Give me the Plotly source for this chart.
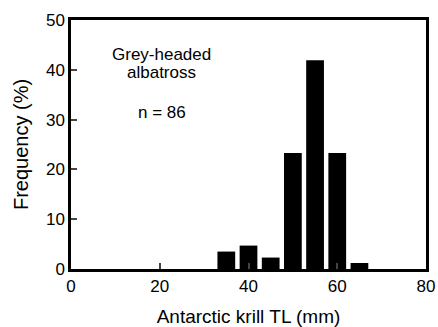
import plotly.graph_objects as go

bin_centers = [35, 40, 45, 50, 55, 60, 65]
frequency = [3.5, 4.7, 2.3, 23.3, 41.9, 23.3, 1.2]
x_ticks = [0, 20, 40, 60, 80]
y_ticks = [0, 10, 20, 30, 40, 50]

fig = go.Figure()
fig.add_trace(go.Bar(x=bin_centers, y=frequency, width=4,
                     marker=dict(color="black", line=dict(width=0))))

fam = "Liberation Sans, Arial, sans-serif"
tick_font = dict(family=fam, size=17, color="black")
ann_font = dict(family=fam, size=17, color="black")
fig.update_layout(
    width=438, height=327,
    margin=dict(l=71, r=12, t=20, b=58),
    plot_bgcolor="white", paper_bgcolor="white",
    font=tick_font, showlegend=False,
    xaxis=dict(range=[0, 80], tickvals=x_ticks, ticks="inside", ticklen=6, tickwidth=2,
               showline=True, linecolor="black", linewidth=2.5, mirror=True,
               showgrid=False, zeroline=False, tickfont=tick_font, automargin=False,
               title=dict(text="Antarctic krill TL (mm)", standoff=15,
                          font=dict(family=fam, size=19, color="black"))),
    yaxis=dict(range=[0, 50], tickvals=y_ticks, ticks="inside", ticklen=6, tickwidth=2,
               showline=True, linecolor="black", linewidth=2.5, mirror=True,
               showgrid=False, zeroline=False, tickfont=tick_font, automargin=False,
               title=dict(text="Frequency (%)", standoff=12,
                          font=dict(family=fam, size=20, color="black"))),
    annotations=[
        dict(x=20.4, y=43.0, xref="x", yref="y", text="Grey-headed",
             showarrow=False, font=ann_font),
        dict(x=20.4, y=39.4, xref="x", yref="y", text="albatross",
             showarrow=False, font=ann_font),
        dict(x=20.4, y=31.4, xref="x", yref="y", text="n = 86",
             showarrow=False, font=ann_font),
    ],
)
fig.write_html("out.html", config={"displayModeBar": False},
               post_script="document.body.style.margin='0';")
